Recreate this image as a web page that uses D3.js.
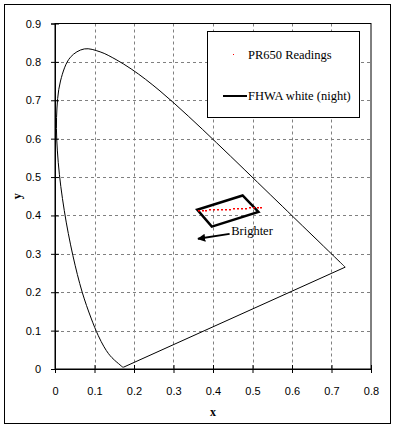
<!DOCTYPE html>
<html>
<head>
<meta charset="utf-8">
<script src="https://cdn.jsdelivr.net/npm/d3@7"></script>
<style>
	body { margin: 0; background: #fff; }
	.tick text { font-family: Arial, 'Liberation Sans', sans-serif; font-size: 11px; }
</style>
</head>
<body>
<div id="graph"></div>
<script>

// CIE 1931 spectral locus, 380 to 700 nm in 5 nm steps
const locusX = [0.1741, 0.1740, 0.1738, 0.1736, 0.1733, 0.1730, 0.1726, 0.1721, 0.1714, 0.1703,
	0.1689, 0.1669, 0.1644, 0.1611, 0.1566, 0.1510, 0.1440, 0.1355, 0.1241, 0.1096,
	0.0913, 0.0687, 0.0454, 0.0235, 0.0082, 0.0039, 0.0139, 0.0389, 0.0743, 0.1142,
	0.1547, 0.1929, 0.2296, 0.2658, 0.3016, 0.3373, 0.3731, 0.4087, 0.4441, 0.4788,
	0.5125, 0.5448, 0.5752, 0.6029, 0.6270, 0.6482, 0.6658, 0.6801, 0.6915, 0.7006,
	0.7079, 0.7140, 0.7190, 0.7230, 0.7260, 0.7283, 0.7300, 0.7311, 0.7320, 0.7327,
	0.7334, 0.7340, 0.7344, 0.7346, 0.7347]
const locusY = [0.0050, 0.0050, 0.0049, 0.0049, 0.0048, 0.0048, 0.0048, 0.0048, 0.0051, 0.0058,
	0.0069, 0.0086, 0.0109, 0.0138, 0.0177, 0.0227, 0.0297, 0.0399, 0.0578, 0.0868,
	0.1327, 0.2007, 0.2950, 0.4127, 0.5384, 0.6548, 0.7502, 0.8120, 0.8338, 0.8262,
	0.8059, 0.7816, 0.7543, 0.7243, 0.6923, 0.6589, 0.6245, 0.5896, 0.5547, 0.5202,
	0.4866, 0.4544, 0.4242, 0.3965, 0.3725, 0.3514, 0.3340, 0.3197, 0.3083, 0.2993,
	0.2920, 0.2859, 0.2809, 0.2770, 0.2740, 0.2717, 0.2700, 0.2689, 0.2680, 0.2673,
	0.2666, 0.2660, 0.2656, 0.2654, 0.2653]

// FHWA white (night) box corners
const fhwaX = [0.360, 0.475, 0.515, 0.397]
const fhwaY = [0.415, 0.452, 0.409, 0.371]

// PR650 readings
const prX = [0.361, 0.371, 0.381, 0.391, 0.401, 0.411, 0.421, 0.431, 0.441, 0.451, 0.461, 0.471, 0.481, 0.491, 0.501, 0.511, 0.519]
const prY = [0.414, 0.415, 0.415, 0.416, 0.416, 0.417, 0.417, 0.418, 0.418, 0.419, 0.419, 0.420, 0.420, 0.421, 0.421, 0.422, 0.422]

const xTicks = [0, 0.1, 0.2, 0.3, 0.4, 0.5, 0.6, 0.7, 0.8]
const yTicks = [0, 0.1, 0.2, 0.3, 0.4, 0.5, 0.6, 0.7, 0.8, 0.9]

let width = 395
	, height = 428
	, margin = { left: 55, top: 23.5, right: 24, bottom: 59 }
	, x = d3.scaleLinear().domain([0, 0.8]).range([margin.left, width - margin.right])
	, y = d3.scaleLinear().domain([0, 0.9]).range([height - margin.bottom, margin.top])

const svg = d3.select('#graph')
	.append('svg')
	  .attr('width', width)
	  .attr('height', height)

// outer chart border
svg.append('rect')
	.attr('x', 4.5).attr('y', 4.5)
	.attr('width', 386).attr('height', 419)
	.attr('fill', '#fff')
	.attr('stroke', '#000')

// dashed grid
const grid = svg.append('g')
	.attr('stroke', '#808080')
	.attr('stroke-dasharray', '3,3')
grid.selectAll('.vg')
	.data(xTicks.slice(1, -1))
	.join('line')
	  .attr('x1', d => Math.round(x(d)) + .5).attr('x2', d => Math.round(x(d)) + .5)
	  .attr('y1', y(0.9)).attr('y2', y(0))
grid.selectAll('.hg')
	.data(yTicks.slice(1, -1))
	.join('line')
	  .attr('y1', d => Math.round(y(d)) + .5).attr('y2', d => Math.round(y(d)) + .5)
	  .attr('x1', x(0)).attr('x2', x(0.8))

// plot area frame
svg.append('rect')
	.attr('x', x(0)).attr('y', y(0.9))
	.attr('width', x(0.8) - x(0)).attr('height', y(0) - y(0.9))
	.attr('fill', 'none')
	.attr('stroke', '#000')

// axes
const xAxis = svg.append('g')
	.attr('transform', 'translate(0,' + y(0) + ')')
	.call(d3.axisBottom(x).tickValues(xTicks).tickFormat(d => d === 0 ? '0' : d3.format('.1f')(d)).tickSize(4).tickPadding(14))
xAxis.selectAll('.tick line').attr('y1', -4)
xAxis.select('.domain').attr('stroke', '#000')

const yAxis = svg.append('g')
	.attr('transform', 'translate(' + x(0) + ',0)')
	.call(d3.axisLeft(y).tickValues(yTicks).tickFormat(d => d === 0 ? '0' : d3.format('.1f')(d)).tickSize(4).tickPadding(10))
yAxis.selectAll('.tick line').attr('x1', 4)

// axis titles
svg.append('text')
	.attr('x', x(0.4)).attr('y', 416)
	.attr('text-anchor', 'middle')
	.style('font-family', "'Liberation Serif', 'Times New Roman', serif")
	.style('font-weight', 'bold')
	.style('font-size', '12px')
	.text('x')
svg.append('text')
	.attr('transform', 'translate(21,' + y(0.45) + ') rotate(-90)')
	.attr('text-anchor', 'middle')
	.style('font-family', "'Liberation Serif', 'Times New Roman', serif")
	.style('font-weight', 'bold')
	.style('font-size', '12px')
	.text('y')

// spectral locus, closed by the line of purples
const locus = locusX.map((d, i) => [x(d), y(locusY[i])])
svg.append('path')
	.attr('d', d3.line().curve(d3.curveCatmullRom)(locus) + 'L' + locus[0][0] + ',' + locus[0][1])
	.attr('fill', 'none')
	.attr('stroke', '#000')
	.attr('stroke-width', 1)

// FHWA box
svg.append('path')
	.attr('d', d3.line()(fhwaX.map((d, i) => [x(d), y(fhwaY[i])])) + 'Z')
	.attr('fill', 'none')
	.attr('stroke', '#000')
	.attr('stroke-width', 2.5)

// PR650 dots
svg.append('g')
	.selectAll('rect')
	.data(prX.map((d, i) => [d, prY[i]]))
	.join('rect')
	  .attr('x', d => Math.round(x(d[0]))).attr('y', d => Math.round(y(d[1])))
	  .attr('width', 2).attr('height', 1.5)
	  .attr('fill', '#ff0000')

// "Brighter" annotation
svg.append('defs').append('marker')
	.attr('id', 'arrow')
	.attr('viewBox', '0 0 10 10')
	.attr('refX', 9).attr('refY', 5)
	.attr('markerWidth', 4).attr('markerHeight', 4)
	.attr('orient', 'auto')
	.append('path')
	  .attr('d', 'M0,0L10,5L0,10Z')
	  .attr('fill', '#000')
svg.append('line')
	.attr('x1', x(0.442)).attr('y1', y(0.352))
	.attr('x2', x(0.362)).attr('y2', y(0.339))
	.attr('stroke', '#000')
	.attr('stroke-width', 2)
	.attr('marker-end', 'url(#arrow)')
svg.append('text')
	.attr('x', x(0.446)).attr('y', y(0.349))
	.style('font-family', "'Liberation Serif', 'Times New Roman', serif")
	.style('font-size', '12.5px')
	.text('Brighter')

// legend
const legend = svg.append('g')
legend.append('rect')
	.attr('x', 207.5).attr('y', 31.5)
	.attr('width', 152).attr('height', 86)
	.attr('fill', '#fff')
	.attr('stroke', '#000')
legend.append('rect')
	.attr('x', 233).attr('y', 54).attr('width', 1).attr('height', 1)
	.attr('fill', '#ff0000')
legend.append('line')
	.attr('x1', 223).attr('x2', 247)
	.attr('y1', 96).attr('y2', 96)
	.attr('stroke', '#000')
	.attr('stroke-width', 2)
legend.selectAll('.lt')
	.data([['PR650 Readings', 59], ['FHWA white (night)', 100]])
	.join('text')
	  .attr('x', 248).attr('y', d => d[1])
	  .style('font-family', "'Liberation Serif', 'Times New Roman', serif")
	  .style('font-size', '12.5px')
	  .text(d => d[0])

</script>
</body>
</html>
